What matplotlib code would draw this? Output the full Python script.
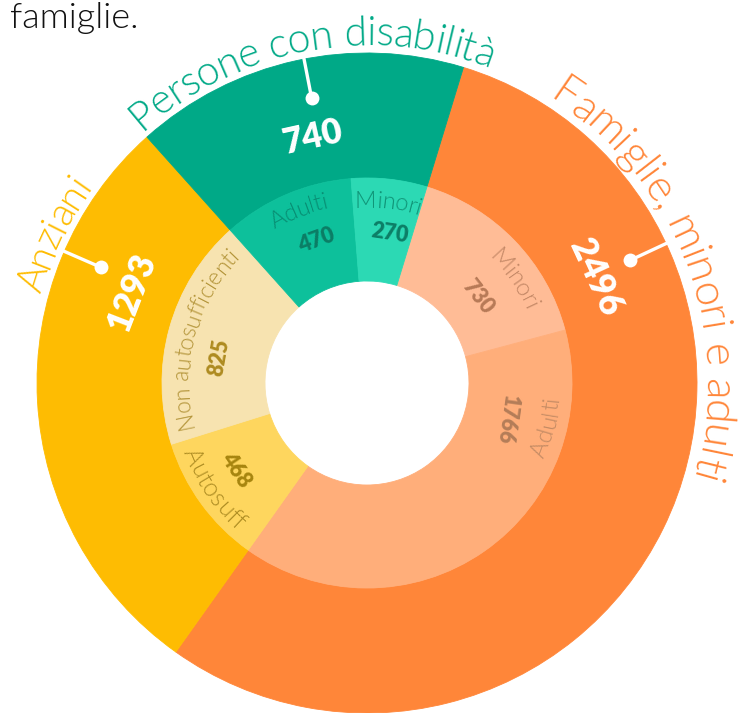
import matplotlib
matplotlib.use("Agg")
import matplotlib.pyplot as plt
import numpy as np

FONT = ["Lato", "DejaVu Sans"]

# outer ring: the three groups, clockwise from the top-right
groups = ["Famiglie, minori e adulti", "Anziani", "Persone con disabilità"]
group_values = [2496, 1293, 740]
group_colors = ["#FF8639", "#FEBC02", "#00A987"]

# inner ring: the sub-groups, in the same clockwise order
sub_labels = ["Minori", "Adulti", "Autosuff", "Non autosufficienti", "Adulti", "Minori"]
sub_values = [730, 1766, 468, 825, 470, 270]
sub_colors = ["#FFBC96", "#FFAE7A", "#FED65E", "#F7E3B0", "#0DC09B", "#2CD9B4"]
sub_label_colors = ["#C48866", "#C48B64", "#AF8E24", "#B4953A", "#088F74", "#109578"]
sub_value_colors = ["#B77A57", "#B47D58", "#A7850F", "#AE8B20", "#0B7D65", "#0C7E66"]

CX, CY = 367, 330
R_OUT, R_MID, R_IN = 330, 205, 102

fig = plt.figure(figsize=(7.38, 7.13), dpi=100)
ax = fig.add_axes([0, 0, 1, 1])

outer, _ = ax.pie(group_values, radius=R_OUT, center=(CX, CY), startangle=73, counterclock=False,
                  colors=group_colors, frame=True,
                  wedgeprops=dict(width=R_OUT - R_MID, linewidth=0.6))
inner, _ = ax.pie(sub_values, radius=R_MID, center=(CX, CY), startangle=73, counterclock=False,
                  colors=sub_colors, frame=True,
                  wedgeprops=dict(width=R_MID - R_IN, linewidth=0.6))
for w in outer + inner:
    w.set_edgecolor(w.get_facecolor())

ax.set_xlim(0, 738)
ax.set_ylim(0, 713)
ax.set_aspect("equal")
ax.axis("off")

renderer = fig.canvas.get_renderer()


def polar(r, a):
    t = np.radians(a)
    return CX + r * np.cos(t), CY + r * np.sin(t)


def width(s, size, weight):
    t = ax.text(0, 0, "x" + s + "x", fontsize=size, family=FONT, fontweight=weight)
    w = t.get_window_extent(renderer).width
    t.remove()
    t = ax.text(0, 0, "xx", fontsize=size, family=FONT, fontweight=weight)
    w0 = t.get_window_extent(renderer).width
    t.remove()
    return w - w0


def arc_text(s, theta, r, size, color, weight=300, flip=False, span=None):
    if span is not None:
        size = size * np.radians(span) * r / width(s, size, weight)
    pre = [width(s[:i], size, weight) for i in range(len(s) + 1)]
    total = pre[-1]
    for i, ch in enumerate(s):
        if ch == " ":
            continue
        mid = (pre[i] + pre[i + 1]) / 2
        off = np.degrees((total / 2 - mid) / r)
        if flip:
            a = theta - off
            rot = a + 90
        else:
            a = theta + off
            rot = a - 90
        x, y = polar(r, a)
        ax.text(x, y, ch, rotation=rot, rotation_mode="anchor", ha="center", va="center",
                fontsize=size, family=FONT, fontweight=weight, color=color)


def straight(s, theta, r, size, color, rot, weight=800):
    x, y = polar(r, theta)
    ax.text(x, y, s, rotation=rot, rotation_mode="anchor", ha="center", va="center",
            fontsize=size, family=FONT, fontweight=weight, color=color)


# group names around the outside
name_angle = [20.5, 154.5, 100.2]
name_span = [74, 20.5, 63]
for name, a, sp, c in zip(groups, name_angle, name_span, group_colors):
    arc_text(name, a, 349, 26, c, span=sp)

# leader lines, dots and totals
lead_angle = [25, 156.5, 101]
num_angle = [24.8, 158.9, 102.5]
for v, a, na in zip(group_values, lead_angle, num_angle):
    x1, y1 = polar(290, a)
    x2, y2 = polar(333, a)
    ax.plot([x1, x2], [y1, y2], color="white", lw=2.4, solid_capstyle="butt")
    ax.plot(x1, y1, "o", ms=10, color="white", mec="none")
    straight(str(v), na, 252, 25, "white", na - 90)

# inner labels
sub_label_angle = [35.2, -13.7, 214.6, 164.8, 111.7, 83.3]
sub_label_r = [181, 186, 190, 185, 186, 182]
sub_flip = [False, True, True, False, False, False]
sub_label_size = [17.5, 17.5, 18, 16.5, 17, 17]
for lab, a, r, fl, c, fs in zip(sub_labels, sub_label_angle, sub_label_r, sub_flip,
                                sub_label_colors, sub_label_size):
    arc_text(lab, a, r, fs, c, flip=fl)

sub_num_angle = [37.8, -14.7, 213.7, 170, 109.7, 81.5]
sub_num_r = [140, 145, 157, 150, 151, 151]
sub_num_rot = [-52, -98, -56, 80, 19.7, -8.5]
for v, a, r, rot, c in zip(sub_values, sub_num_angle, sub_num_r, sub_num_rot, sub_value_colors):
    straight(str(v), a, r, 15.5, c, rot)

# tail of the paragraph above the chart
ax.text(10, 685, "famiglie.", fontsize=26, family=FONT, fontweight=300, color="#111111",
        ha="left", va="baseline")

fig.savefig("out.png", dpi=100)
